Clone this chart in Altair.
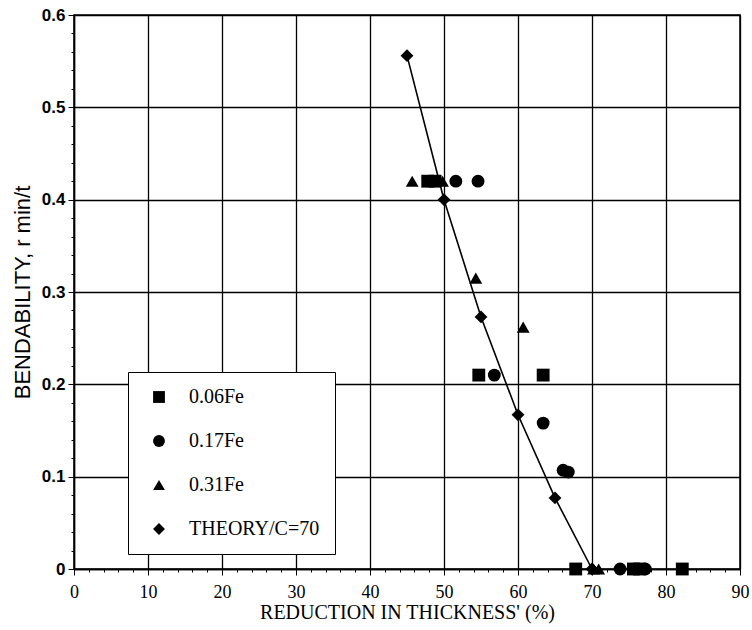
import altair as alt
import pandas as pd

# 0.06Fe (squares)
fe06_x = [47.8, 48.8, 54.7, 63.4, 67.8, 75.6, 76.4, 82.2]
fe06_y = [0.42, 0.42, 0.21, 0.21, 0.0, 0.0, 0.0, 0.0]
# 0.17Fe (circles)
fe17_x = [51.6, 54.6, 56.8, 63.4, 66.1, 66.8, 73.8, 77.2]
fe17_y = [0.42, 0.42, 0.21, 0.158, 0.107, 0.105, 0.0, 0.0]
# 0.31Fe (triangles)
fe31_x = [45.7, 49.8, 54.3, 60.7, 70.2, 70.9]
fe31_y = [0.42, 0.42, 0.315, 0.262, 0.0, 0.0]
# Theory C=70 (diamonds)
th_x = [45, 50, 55, 60, 65, 70]
th_y = [0.556, 0.40, 0.273, 0.167, 0.077, 0.0]

series_names = ["0.06Fe", "0.17Fe", "0.31Fe", "THEORY/C=70"]
series_shapes = ["square", "circle", "triangle-up", "diamond"]

rows = []
for name, xs, ys in zip(series_names, [fe06_x, fe17_x, fe31_x, th_x], [fe06_y, fe17_y, fe31_y, th_y]):
    for a, b in zip(xs, ys):
        rows.append({"series": name, "x": a, "y": b})
df = pd.DataFrame(rows)

x_ticks = list(range(0, 91, 2))
y_ticks = [round(i * 0.02, 2) for i in range(0, 31)]

x_major = "datum.value % 10 === 0"
y_major = "abs(datum.value * 10 - round(datum.value * 10)) < 0.000001"

SERIF = "'Liberation Serif', 'Times New Roman', Times, serif"
SANS = "'Liberation Sans', Arial, Helvetica, sans-serif"

x_axis = alt.Axis(
    values=x_ticks,
    title="REDUCTION IN THICKNESS' (%)",
    titleFont=SERIF, titleFontSize=20, titleFontWeight="normal",
    titleColor="black", titlePadding=1,
    labelFont=SERIF, labelFontSize=18, labelColor="black",
    labelExpr=f"({x_major}) ? datum.label : ''",
    labelOverlap=False, labelPadding=8, labelFlush=False,
    tickSize={"condition": {"test": x_major, "value": 6}, "value": 3},
    tickColor="black", tickWidth=1,
    grid=True, gridColor="black", gridWidth=1.3,
    gridOpacity={"condition": {"test": x_major, "value": 1}, "value": 0},
    domainColor="black", domainWidth=1.5,
)
y_axis = alt.Axis(
    values=y_ticks,
    title="BENDABILITY, r min/t",
    titleFont=SANS, titleFontSize=22, titleFontWeight="normal",
    titleColor="black", titlePadding=7,
    labelFont=SANS, labelFontSize=17, labelFontWeight="bold",
    labelColor="black",
    labelExpr=f"({y_major}) ? format(datum.value, '.1~f') : ''",
    labelOverlap=False, labelPadding=3, labelFlush=False,
    tickSize={"condition": {"test": y_major, "value": 6}, "value": 3},
    tickColor="black", tickWidth=1,
    grid=True, gridColor="black", gridWidth=1.3,
    gridOpacity={"condition": {"test": y_major, "value": 1}, "value": 0},
    domainColor="black", domainWidth=1.5,
)

xs = alt.Scale(domain=[0, 90], nice=False, zero=False)
ys = alt.Scale(domain=[0, 0.6], nice=False, zero=False)

base = alt.Chart(df)

line = base.transform_filter(alt.datum.series == "THEORY/C=70").mark_line(
    color="black", strokeWidth=1.6
).encode(
    x=alt.X("x:Q", scale=xs, axis=x_axis),
    y=alt.Y("y:Q", scale=ys, axis=y_axis),
)

points = base.mark_point(filled=True, opacity=1, color="black", size=165).encode(
    x=alt.X("x:Q", scale=xs, axis=x_axis),
    y=alt.Y("y:Q", scale=ys, axis=y_axis),
    shape=alt.Shape(
        "series:N",
        scale=alt.Scale(domain=series_names, range=series_shapes),
        legend=alt.Legend(
            title=None,
            orient="none", legendX=54, legendY=357,
            fillColor="white", strokeColor="black",
            padding=15, rowPadding=24,
            symbolSize=140, symbolFillColor="black", symbolStrokeColor="black",
            symbolStrokeWidth=0, symbolOffset=6,
            labelFont=SERIF, labelFontSize=20, labelColor="black",
            labelOffset=20, labelLimit=400,
            labelExpr="datum.label + '  '",
        ),
    ),
)

chart = (
    alt.layer(line, points)
    .properties(
        width=666, height=554,
        autosize=alt.AutoSizeParams(type="none"),
        padding={"left": 74, "top": 15, "right": 12, "bottom": 61},
        background="white",
    )
    .configure_view(stroke="black", strokeWidth=1.5)
)

chart.save("out.html", embed_options={"renderer": "svg", "actions": False})
